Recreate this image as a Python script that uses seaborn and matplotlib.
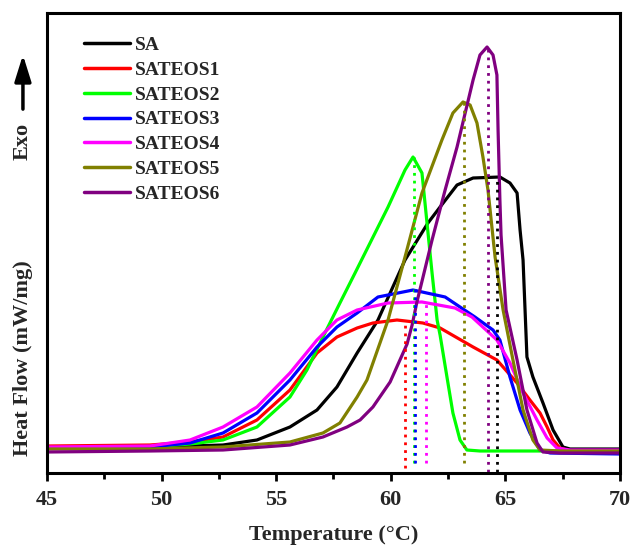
import numpy as np
import pandas as pd
import matplotlib
matplotlib.use("Agg")
import matplotlib.pyplot as plt
import seaborn as sns
from matplotlib.ticker import MultipleLocator

sns.set_theme(style="white")
plt.rcParams['font.family'] = ['Liberation Serif', 'DejaVu Serif']
plt.rcParams['font.weight'] = 'bold'

# ---- data (y in arbitrary units) ----
sa_T = [45, 49.49, 51.24, 52.68, 54.16, 55.60, 56.78, 57.65, 58.53, 59.44, 60.62, 61.62, 62.15, 62.89, 63.59, 64.76, 65.20, 65.51, 65.64, 65.77, 65.94, 66.20, 66.64, 67.08, 67.51, 67.82, 70]
sa_y = [0.25, 0.25, 0.27, 0.28, 0.33, 0.46, 0.63, 0.86, 1.20, 1.53, 2.13, 2.50, 2.66, 2.88, 2.95, 2.96, 2.90, 2.80, 2.43, 2.13, 1.16, 0.96, 0.70, 0.43, 0.26, 0.24, 0.24]

s1_T = [45, 49.49, 51.24, 52.68, 54.16, 55.60, 56.78, 57.65, 58.53, 59.22, 60.27, 61.40, 62.15, 63.59, 64.63, 65.51, 66.07, 66.51, 66.82, 67.08, 67.38, 67.82, 70]
s1_y = [0.27, 0.28, 0.31, 0.36, 0.53, 0.83, 1.20, 1.36, 1.45, 1.50, 1.53, 1.50, 1.45, 1.26, 1.13, 0.90, 0.73, 0.60, 0.46, 0.33, 0.25, 0.22, 0.22]

s2_T = [45, 49.49, 51.24, 52.68, 54.16, 55.60, 56.34, 57.04, 57.78, 58.44, 59.88, 60.62, 60.97, 61.36, 61.58, 61.80, 62.02, 62.15, 62.45, 62.71, 63.02, 63.32, 63.89, 70]
s2_y = [0.25, 0.26, 0.29, 0.33, 0.46, 0.76, 1.03, 1.36, 1.70, 2.00, 2.66, 3.03, 3.16, 3.00, 2.50, 2.00, 1.53, 1.38, 0.96, 0.60, 0.33, 0.23, 0.22, 0.22]

s3_T = [45, 49.49, 51.24, 52.68, 54.16, 55.60, 56.78, 57.65, 58.53, 59.44, 60.97, 62.37, 63.67, 64.46, 64.76, 65.20, 65.64, 66.07, 66.51, 66.95, 70]
s3_y = [0.25, 0.26, 0.30, 0.40, 0.60, 0.93, 1.26, 1.46, 1.60, 1.76, 1.83, 1.76, 1.56, 1.43, 1.33, 0.96, 0.63, 0.40, 0.23, 0.20, 0.19]

s4_T = [45, 49.49, 51.24, 52.68, 54.16, 55.60, 56.78, 57.65, 58.53, 59.88, 61.36, 62.80, 63.54, 64.63, 65.20, 65.77, 66.38, 66.82, 67.25, 67.82, 70]
s4_y = [0.26, 0.27, 0.33, 0.46, 0.66, 1.00, 1.33, 1.53, 1.63, 1.70, 1.71, 1.65, 1.56, 1.33, 1.10, 0.80, 0.53, 0.35, 0.25, 0.23, 0.23]

s5_T = [45, 49.49, 52.68, 55.60, 57.04, 57.78, 58.53, 58.96, 59.88, 60.62, 61.36, 62.23, 62.71, 63.15, 63.46, 63.76, 64.02, 64.24, 64.55, 64.90, 65.33, 65.77, 66.20, 66.51, 67.38, 70]
s5_y = [0.24, 0.24, 0.26, 0.31, 0.40, 0.50, 0.76, 0.93, 1.53, 2.16, 2.80, 3.33, 3.60, 3.71, 3.68, 3.50, 3.16, 2.83, 2.16, 1.63, 1.13, 0.63, 0.33, 0.23, 0.22, 0.22]

s6_T = [45, 49.49, 52.68, 55.60, 57.04, 58.09, 58.66, 59.22, 59.97, 60.71, 60.93, 61.14, 61.80, 62.37, 62.89, 63.59, 63.89, 64.20, 64.46, 64.63, 64.68, 64.76, 64.81, 65.03, 65.51, 65.94, 66.38, 66.64, 67.38, 70]
s6_y = [0.21, 0.22, 0.23, 0.28, 0.36, 0.46, 0.53, 0.66, 0.91, 1.29, 1.48, 1.71, 2.33, 2.83, 3.26, 3.93, 4.18, 4.26, 4.18, 3.98, 3.43, 2.73, 2.38, 1.63, 1.13, 0.63, 0.30, 0.21, 0.20, 0.20]

names = ["SA", "SATEOS1", "SATEOS2", "SATEOS3", "SATEOS4", "SATEOS5", "SATEOS6"]
colors = ["#000000", "#FF0000", "#00FF00", "#0000FF", "#FF00FF", "#808000", "#800080"]

# peak temperatures (dotted lines) and their extents
peak_T = [64.62, 60.62, 61.03, 61.06, 61.54, 63.2, 64.23]
peak_top = [2.96, 1.53, 3.16, 1.84, 1.71, 3.70, 4.25]
peak_bot = [0.01, 0.05, 0.10, 0.10, 0.10, 0.10, 0.01]

series = [(sa_T, sa_y), (s1_T, s1_y), (s2_T, s2_y), (s3_T, s3_y),
          (s4_T, s4_y), (s5_T, s5_y), (s6_T, s6_y)]
frames = []
for n, (t, y) in zip(names, series):
    frames.append(pd.DataFrame({"Temperature": t, "Heat": y, "Sample": n}))
df = pd.concat(frames, ignore_index=True)

fig = plt.figure(figsize=(6.32, 5.47), dpi=100)
ax = fig.add_axes([47/632, 74/547, 573/632, 460/547])

sns.lineplot(data=df, x="Temperature", y="Heat", hue="Sample", hue_order=names,
             palette=dict(zip(names, colors)), estimator=None, sort=False,
             lw=2.3, ax=ax, legend=True)
for l in ax.get_lines():
    l.set_solid_joinstyle("round")
    l.set_solid_capstyle("round")

for t, b, tp, c in zip(peak_T, peak_bot, peak_top, colors):
    ax.vlines(t, b, tp, colors=c, linestyles=(0, (1, 1.8)), lw=2.0)

ax.set_xlim(45, 70)
ax.set_ylim(0, 4.60)
ax.xaxis.set_major_locator(MultipleLocator(5))
ax.xaxis.set_minor_locator(MultipleLocator(2.5))
ax.set_yticks([])
ax.tick_params(axis="x", which="major", direction="out", length=6, width=2,
               labelsize=16, pad=6, bottom=True, top=False, color="black")
ax.tick_params(axis="x", which="minor", direction="out", length=4, width=2,
               bottom=True, top=False, color="black")
for lab in ax.get_xticklabels():
    lab.set_fontweight("bold")
for s in ax.spines.values():
    s.set_linewidth(2.2)
    s.set_color("black")

ax.set_xlabel("Temperature (°C)", fontsize=16, fontweight="bold", labelpad=11)
ax.set_ylabel("Heat Flow (mW/mg)", fontsize=16, fontweight="bold", va="center")
ax.yaxis.set_label_coords(-0.042, 0.25)

ax.text(-0.042, 0.72, "Exo", transform=ax.transAxes, rotation=90,
        ha="center", va="center", fontsize=16, fontweight="bold")
ax.annotate("", xy=(-0.042, 0.915), xytext=(-0.042, 0.785), xycoords="axes fraction",
            textcoords="axes fraction",
            arrowprops=dict(arrowstyle="-|>,head_length=0.8,head_width=0.25",
                            lw=2.5, color="black", mutation_scale=20))

handles, labels = ax.get_legend_handles_labels()
leg = ax.legend(handles, labels, loc="upper left", bbox_to_anchor=(0.051, 0.966),
                frameon=False, fontsize=14, handlelength=2.35, handletextpad=0.25,
                labelspacing=0.37, borderaxespad=0)
for t in leg.get_texts():
    t.set_fontweight("bold")
for l in leg.get_lines():
    l.set_linewidth(2.5)

fig.savefig("out.png", dpi=100)
